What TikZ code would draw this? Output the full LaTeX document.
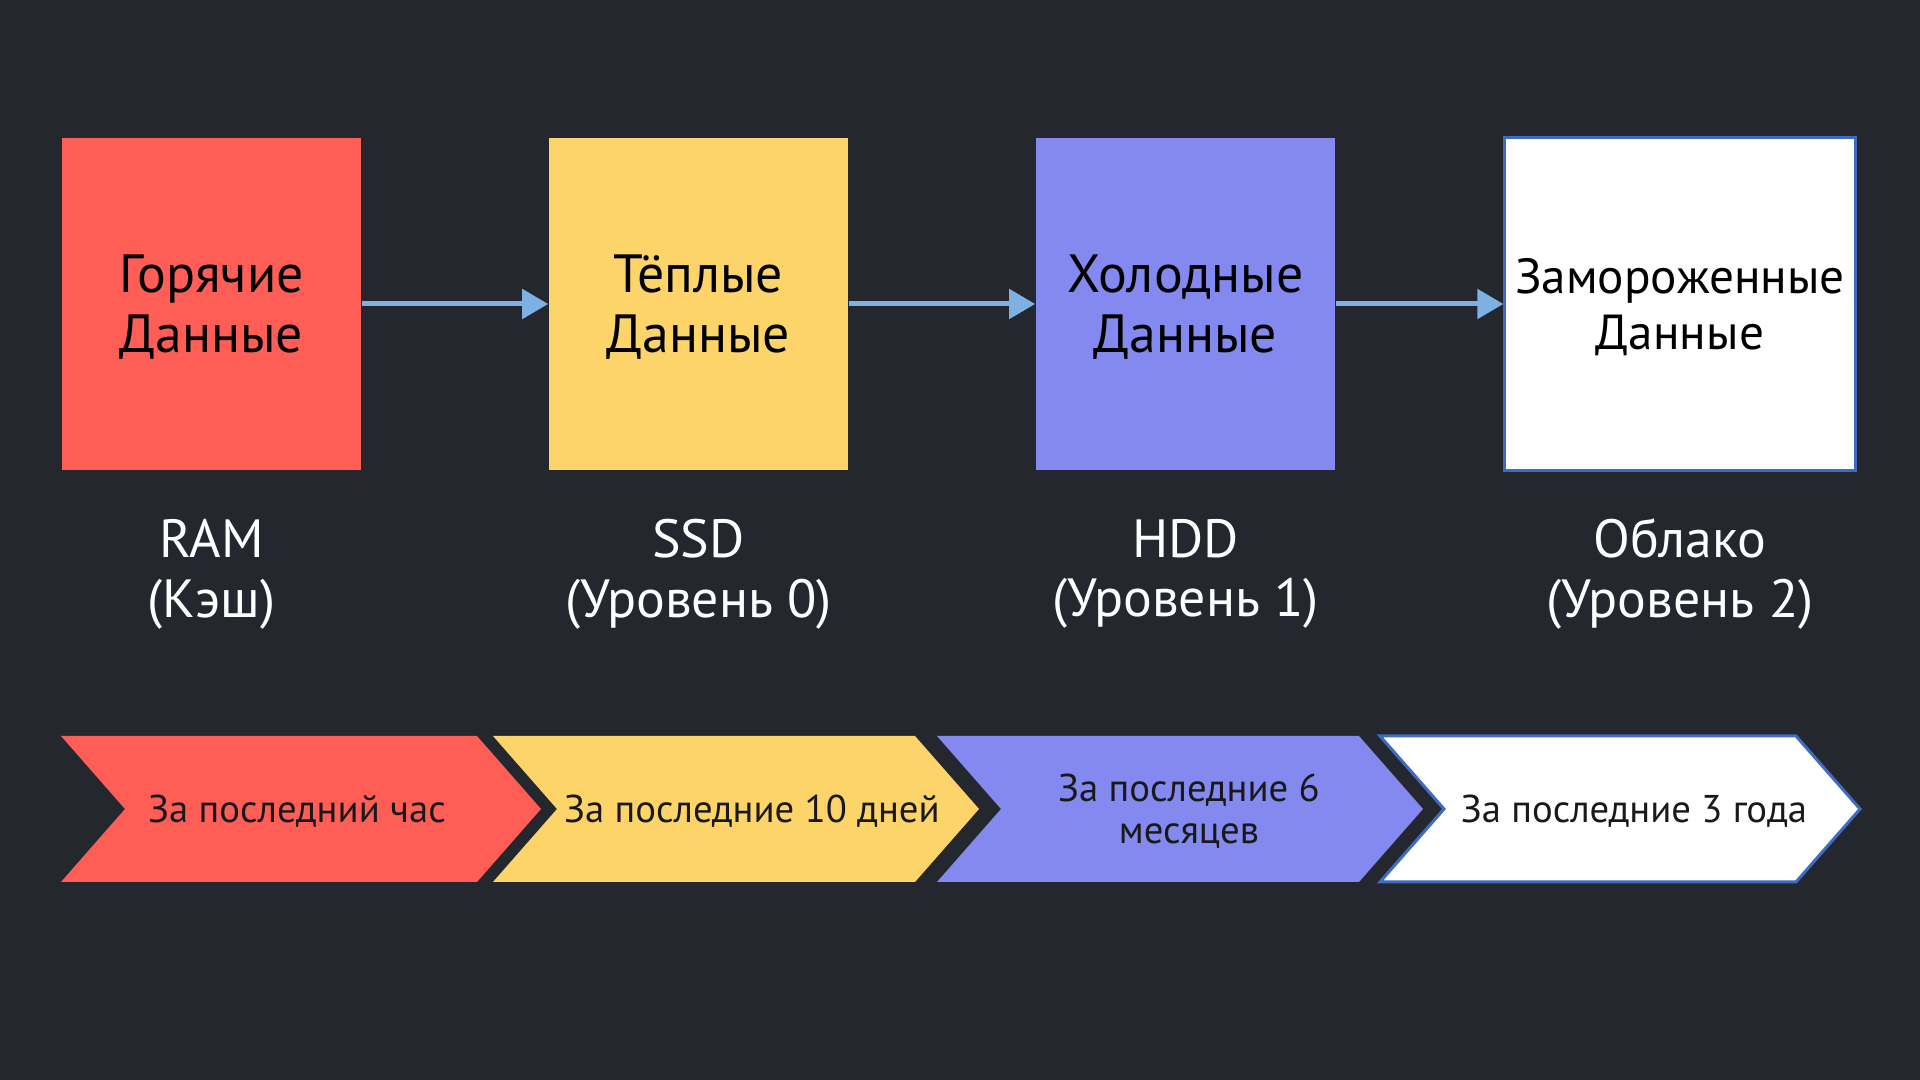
\documentclass[tikz,border=0pt]{standalone}
\usepackage{fontspec}
\setmainfont{PT Sans}
\usepackage{tikz}
\usetikzlibrary{arrows.meta,positioning}

\definecolor{bgdark}{HTML}{24272E}
\definecolor{hotred}{HTML}{FF5E57}
\definecolor{warmyellow}{HTML}{FCD46A}
\definecolor{coldblue}{HTML}{8389EE}
\definecolor{frostedge}{HTML}{3D6CC0}
\definecolor{arrowblue}{HTML}{7EB0E4}

\begin{document}
\begin{tikzpicture}[x=0.01cm,y=-0.01cm,
    tier/.style={minimum width=2.99cm,minimum height=3.32cm,inner sep=0pt,align=center,text depth=0pt,font=\fontsize{15.3}{17}\selectfont},
    media/.style={text=white,align=center,text depth=0pt,font=\fontsize{15.3}{17}\selectfont},
    span/.style={text=black!90,align=center,text depth=0pt,font=\fontsize{11}{12}\selectfont},
    flow/.style={-{Triangle[length=0.26cm,width=0.29cm]},arrowblue,line width=0.05cm}]
        \fill[bgdark] (0,0) rectangle (1920,1080);
        % storage tiers
        \node[tier,fill=hotred] (hot) at (211.5,304) {Горячие\\Данные};
        \node[tier,fill=warmyellow] (warm) at (698.5,304) {Тёплые\\Данные};
        \node[tier,fill=coldblue] (cold) at (1185.5,304) {Холодные\\Данные};
        \node[tier,fill=white,draw=frostedge,line width=0.03cm,minimum width=3.5cm,font=\fontsize{14}{16}\selectfont] (frozen) at (1680,304) {Замороженные\\Данные};
        \draw[flow] (hot) -- (warm);
        \draw[flow] (warm) -- (cold);
        \draw[flow] (cold) -- (frozen);
        % media
        \node[media] (ram) at (211.5,568) {RAM\\(Кэш)};
        \node[media] (ssd) at (698.5,568) {SSD\\(Уровень 0)};
        \node[media] (hdd) at (1185.5,568) {HDD\\(Уровень 1)};
        \node[media] (cloud) at (1680,568) {Облако\\(Уровень 2)};
        % time ranges
        \fill[hotred] (61,736) -- ++(416,0) -- ++(64,73) -- ++(-64,73) -- ++(-416,0) -- ++(64,-73) -- cycle;
        \fill[warmyellow] (493,736) -- ++(422,0) -- ++(64,73) -- ++(-64,73) -- ++(-422,0) -- ++(64,-73) -- cycle;
        \fill[coldblue] (937,736) -- ++(422,0) -- ++(64,73) -- ++(-64,73) -- ++(-422,0) -- ++(64,-73) -- cycle;
        \filldraw[fill=white,draw=frostedge,line width=0.03cm] (1380,736) -- ++(416,0) -- ++(64,73) -- ++(-64,73) -- ++(-416,0) -- ++(64,-73) -- cycle;
        \node[span] (hour) at (297,809) {За последний час};
        \node[span] (days) at (752,809) {За последние 10 дней};
        \node[span] (months) at (1189,809) {За последние 6\\месяцев};
        \node[span] (years) at (1634,809) {За последние 3 года};
    \end{tikzpicture}
\end{document}
